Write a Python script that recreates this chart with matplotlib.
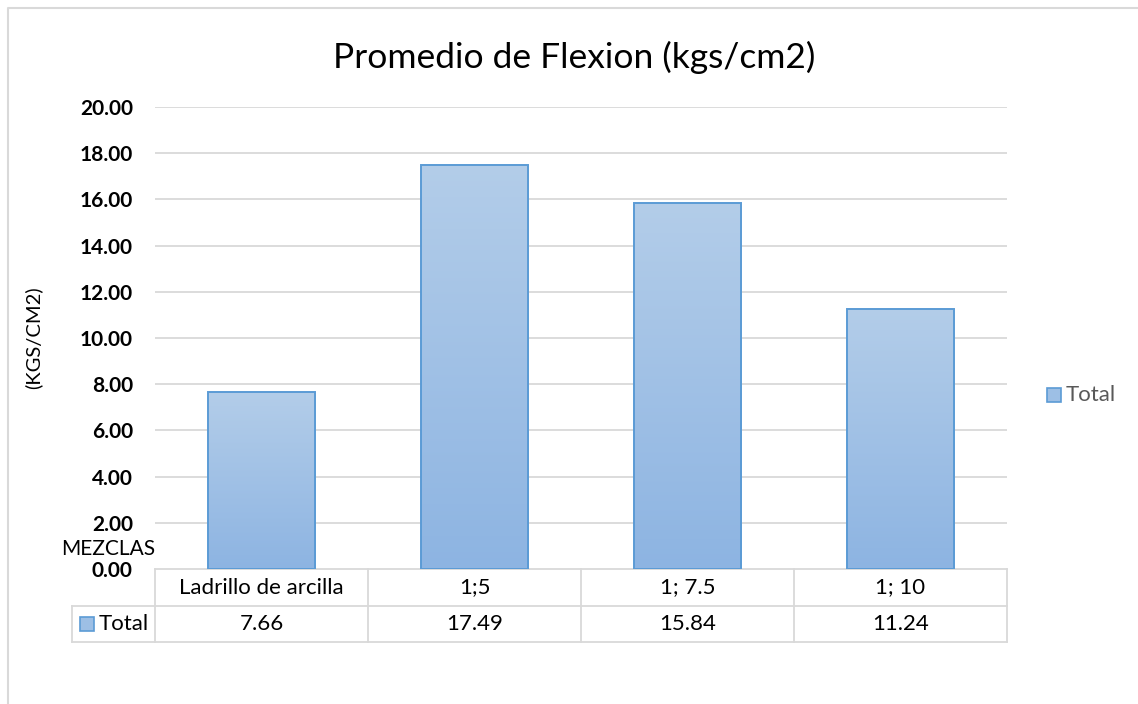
import matplotlib
matplotlib.use("Agg")
import matplotlib.pyplot as plt
import matplotlib.transforms as mtransforms
from matplotlib.colors import LinearSegmentedColormap
import numpy as np

categories = ["Ladrillo de arcilla", "1;5", "1; 7.5", "1; 10"]
values = [7.66, 17.49, 15.84, 11.24]
value_labels = ["7.66", "17.49", "15.84", "11.24"]
series_name = "Total"
yticks = [0, 2, 4, 6, 8, 10, 12, 14, 16, 18, 20]

FONT = ["Lato", "DejaVu Sans"]
plt.rcParams['font.family'] = FONT
FS = 16

W, H = 1138, 704
fig = plt.figure(figsize=(W / 100, H / 100), dpi=100)

def fx(px):
    return px / W

def fy(py):
    return 1 - py / H

# overlay for border
over = fig.add_axes([0, 0, 1, 1], zorder=-1)
over.set_xlim(0, W)
over.set_ylim(H, 0)
over.axis("off")
over.plot([8, 8, W + 5], [H + 5, 8, 8], color="#d9d9d9", lw=1.5)

left, right, top, bottom = 155, 1007, 107, 569
ax = fig.add_axes([fx(left), fy(bottom), fx(right - left), (bottom - top) / H])
ax.set_xlim(-0.5, len(categories) - 0.5)
ax.set_ylim(0, 20)
for s in ax.spines.values():
    s.set_visible(False)
ax.set_yticks(yticks)
ax.set_yticklabels([f"{t:.2f}" for t in yticks], fontsize=15, fontweight="bold", color="black")
ax.tick_params(axis="y", length=0, pad=16)
ax.set_xticks([])
ax.yaxis.grid(True, color="#d9d9d9", lw=1.3)
ax.set_axisbelow(True)

cmap = LinearSegmentedColormap.from_list("g", ["#8db4e2", "#b3cde9"])
bars = ax.bar(range(len(categories)), values, width=0.505, facecolor="none",
              edgecolor="#5b9bd5", lw=1.4, zorder=3)
grad = np.linspace(0, 1, 256).reshape(-1, 1)
for b in bars:
    x0, y0 = b.get_x(), b.get_y()
    im = ax.imshow(grad, cmap=cmap, origin="lower", aspect="auto",
                   extent=[x0, x0 + b.get_width(), y0, y0 + b.get_height()], zorder=2)
    im.set_clip_path(b)
ax.set_xlim(-0.5, len(categories) - 0.5)
ax.set_ylim(0, 20)

# title
fig.text(fx(574), fy(57), "Promedio de Flexion (kgs/cm2)", ha="center", va="center",
         fontsize=25.5, color="black")
# y label
fig.text(fx(33), fy(338), "(KGS/CM2)", rotation=90, ha="center", va="center",
         fontsize=14.5, color="black")
# MEZCLAS
fig.text(fx(108), fy(549), "MEZCLAS", ha="center", va="center", fontsize=15, color="black")

# data table
trans = mtransforms.blended_transform_factory(ax.transData, fig.transFigure)
gc = "#d9d9d9"
r0, r1, r2 = 569, 606, 642
over.plot([left, right], [r0, r0], color=gc, lw=1.3)
over.plot([72, right], [r1, r1], color=gc, lw=1.3)
over.plot([72, right], [r2, r2], color=gc, lw=1.3)
over.plot([72, 72], [r1, r2], color=gc, lw=1.3)
for i in range(len(categories) + 1):
    ax.plot([i - 0.5, i - 0.5], [fy(r0), fy(r2)], transform=trans, color=gc, lw=1.3,
            clip_on=False)
for i, (c, v) in enumerate(zip(categories, value_labels)):
    ax.text(i, fy((r0 + r1) / 2), c, transform=trans, ha="center", va="center",
            fontsize=FS, color="black")
    ax.text(i, fy((r1 + r2) / 2), v, transform=trans, ha="center", va="center",
            fontsize=FS, color="black")
# legend key in table
over.add_patch(plt.Rectangle((80.5, 617), 14, 14, facecolor="#9dbfe5", edgecolor="#5b9bd5", lw=1.2))
over.text(98.5, (r1 + r2) / 2, series_name, ha="left", va="center", fontsize=FS, color="black")

# right legend
over.add_patch(plt.Rectangle((1047.5, 388), 14, 14, facecolor="#9dbfe5", edgecolor="#5b9bd5", lw=1.2))
over.text(1066, 395, series_name, ha="left", va="center", fontsize=FS, color="#595959")

fig.savefig("out.png", dpi=100, facecolor="white")
